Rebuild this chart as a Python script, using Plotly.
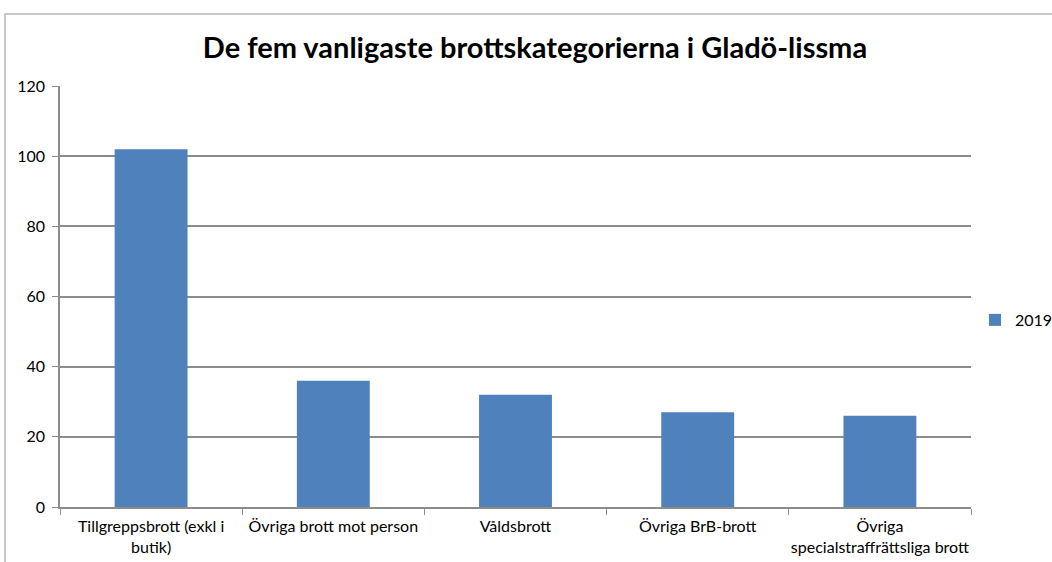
import plotly.graph_objects as go

categories = [
    "Tillgreppsbrott (exkl i<br>butik)",
    "Övriga brott mot person",
    "Våldsbrott",
    "Övriga BrB-brott",
    "Övriga<br>specialstraffrättsliga brott",
]
values_2019 = [102, 36, 32, 27, 26]
series_name = "2019"
title_text = "De fem vanligaste brottskategorierna i Gladö-lissma"
y_ticks = [0, 20, 40, 60, 80, 100, 120]

FONT = "Lato, 'DejaVu Sans Condensed', sans-serif"

fig = go.Figure()
fig.add_trace(go.Bar(
    x=categories,
    y=values_2019,
    name=series_name,
    marker=dict(color="#4F81BD", line=dict(width=0)),
))

W, H = 1052, 562
L, R, T, B = 60, 81, 86, 55
pw = W - L - R
ph = H - T - B

def px_x(p):
    return (p - L) / pw

def px_y(p):
    return (H - B - p) / ph

fig.update_layout(
    width=W, height=H,
    margin=dict(l=L, r=R, t=T, b=B, pad=0, autoexpand=False),
    paper_bgcolor="white",
    plot_bgcolor="white",
    bargap=0.6,
    font=dict(family=FONT, size=16, color="#000000"),
    title=dict(
        text="<b>" + title_text + "</b>",
        x=535 / W, xanchor="center", xref="container",
        y=1 - 48 / H, yanchor="middle", yref="container",
        font=dict(family=FONT, size=29, color="#000000"),
    ),
    showlegend=True,
    legend=dict(
        xref="container", yref="container",
        x=975 / W, xanchor="left",
        y=1 - 320 / H, yanchor="middle",
        font=dict(family=FONT, size=16, color="#000000"),
        itemwidth=30,
        bgcolor="rgba(0,0,0,0)",
    ),
    xaxis=dict(
        type="category",
        showgrid=False,
        showline=True, linecolor="#8c8c8c", linewidth=1.5,
        ticks="outside", tickson="boundaries", ticklen=6, tickcolor="#8c8c8c",
        tickfont=dict(family=FONT, size=16, color="#000000"),
        tickangle=0,
        ticklabelstandoff=4,
        automargin=False,
        fixedrange=True,
    ),
    yaxis=dict(
        range=[0, 120],
        tickvals=y_ticks,
        showgrid=True, gridcolor="#8c8c8c", gridwidth=1.5,
        showline=True, linecolor="#8c8c8c", linewidth=1.5,
        ticks="outside", ticklen=6, tickcolor="#8c8c8c",
        tickfont=dict(family=FONT, size=16, color="#000000"),
        zeroline=False,
        automargin=False,
        ticklabelstandoff=4,
    ),
    shapes=[
        dict(type="rect", xref="paper", yref="paper",
             x0=px_x(5), x1=1.3, y0=-0.3, y1=px_y(14),
             line=dict(color="#b5b5b5", width=1.5), fillcolor="rgba(0,0,0,0)",
             layer="below"),
    ],
)

fig.write_html(
    "out.html",
    config={"displayModeBar": False},
    post_script="document.body.style.margin='0';",
)
